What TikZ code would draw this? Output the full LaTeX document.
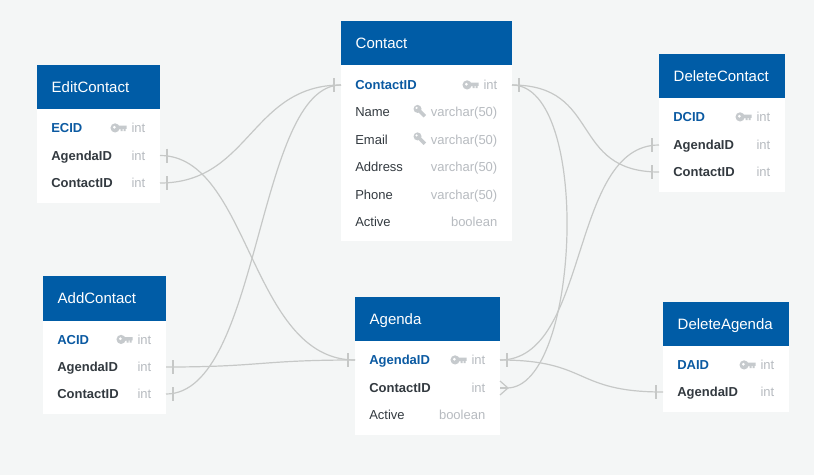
\documentclass[tikz,border=0pt]{standalone}
\usepackage{fontspec}
\setmainfont{Liberation Sans}
\definecolor{bgc}{HTML}{F4F6F6}
\definecolor{headc}{HTML}{005CA6}
\definecolor{pkc}{HTML}{0B5AA2}
\definecolor{namec}{HTML}{333A40}
\definecolor{typec}{HTML}{B7BBC0}
\definecolor{iconc}{HTML}{C6CACD}
\definecolor{linec}{HTML}{C6C8C7}
\tikzset{
  x=1pt,y=-1pt,
  tablebody/.style={fill=white,draw=none,inner sep=0,outer sep=0,anchor=north west},
  tablehead/.style={fill=headc,draw=none,inner sep=0,outer sep=0,anchor=north west},
  rowbox/.style={inner sep=0,outer sep=0,anchor=center,minimum height=27pt},
  rowname/.style={inner sep=0,outer sep=0,anchor=base west,font=\fontsize{13}{13}\selectfont,text=namec},
  rowkey/.style={rowname,font=\fontsize{13}{13}\selectfont\bfseries,text=pkc},
  rowfk/.style={rowname,font=\fontsize{13}{13}\selectfont\bfseries,text=namec},
  rowtype/.style={inner sep=0,outer sep=0,anchor=base east,font=\fontsize{13}{13}\selectfont,text=typec},
  link/.style={draw=linec,line width=1.2pt},
  tickmark/.style={draw=linec,line width=1.3pt},
  pkkey/.pic={
    \fill[iconc,even odd rule] (-11.5,-0.2) circle (4.6) (-12.2,-0.8) circle (1.7);
    \fill[iconc] (-8,-2.4) -- (0,-2.4) -- (0,0.8) -- (-1,0.8) -- (-1,3) -- (-3,3) -- (-3,0.8) -- (-4,0.8) -- (-4,3) -- (-6,3) -- (-6,0.8) -- (-8,1.4) -- cycle;
  },
  idxkey/.pic={
    \fill[iconc,even odd rule] (-8.3,-3.2) circle (4) (-9.3,-4.2) circle (1.4);
    \draw[iconc,line width=3.6pt] (-6.5,-1.4) -- (-1,4.1);
  }
}
\newcommand{\ertable}[7]{% id, x1, x2, top, headbottom, bottom, title
  \node[tablebody,minimum width={#3-#2},minimum height={#6-#4}] (#1-body) at (#2,#4) {};
  \node[tablehead,minimum width={#3-#2},minimum height={#5-#4}] (#1-head) at (#2,#4) {};
  \node[inner sep=0,anchor=base west,text=white,font=\fontsize{15}{15}\selectfont] (#1-title) at (#2+14.5,{(#4+#5)/2+5.2}) {#7};
}
\newcommand{\errow}[7]{% id, x1, x2, y, style, name, type
  \node[rowbox,minimum width={#3-#2}] (#1) at ({(#2+#3)/2},#4) {};
  \node[#5] (#1-name) at (#2+14.3,#4+4.6) {#6};
  \node[rowtype] (#1-type) at (#3-14.7,#4+4.6) {#7};
}
\begin{document}
\begin{tikzpicture}
\path[use as bounding box,fill=bgc] (0,0) rectangle (814,475);

\ertable{edit}{37}{160}{65}{109}{203}{EditContact}
\errow{editid}{37}{160}{128}{rowkey}{ECID}{int}
\errow{editag}{37}{160}{155.5}{rowfk}{AgendaID}{int}
\errow{editco}{37}{160}{183}{rowfk}{ContactID}{int}
\pic at ([xshift=-5pt,yshift=4.5pt]editid-type.base west) {pkkey};

\ertable{add}{43}{166}{276}{321}{414}{AddContact}
\errow{addid}{43}{166}{339.5}{rowkey}{ACID}{int}
\errow{addag}{43}{166}{367}{rowfk}{AgendaID}{int}
\errow{addco}{43}{166}{394}{rowfk}{ContactID}{int}
\pic at ([xshift=-5pt,yshift=4.5pt]addid-type.base west) {pkkey};

\ertable{con}{341}{512}{21}{65}{241}{Contact}
\errow{conid}{341}{512}{85}{rowkey}{ContactID}{int}
\errow{conname}{341}{512}{112}{rowname}{Name}{varchar(50)}
\errow{conmail}{341}{512}{139.5}{rowname}{Email}{varchar(50)}
\errow{conaddr}{341}{512}{167}{rowname}{Address}{varchar(50)}
\errow{conphone}{341}{512}{194.5}{rowname}{Phone}{varchar(50)}
\errow{conact}{341}{512}{222}{rowname}{Active}{boolean}
\pic at ([xshift=-5pt,yshift=4.5pt]conid-type.base west) {pkkey};
\pic at ([xshift=-5pt,yshift=4.5pt]conname-type.base west) {idxkey};
\pic at ([xshift=-5pt,yshift=4.5pt]conmail-type.base west) {idxkey};

\ertable{ag}{355}{500}{297}{341}{435}{Agenda}
\errow{agid}{355}{500}{360}{rowkey}{AgendaID}{int}
\errow{agco}{355}{500}{388}{rowfk}{ContactID}{int}
\errow{agact}{355}{500}{415}{rowname}{Active}{boolean}
\pic at ([xshift=-5pt,yshift=4.5pt]agid-type.base west) {pkkey};

\ertable{dc}{659}{785}{54}{98}{192}{DeleteContact}
\errow{dcid}{659}{785}{117}{rowkey}{DCID}{int}
\errow{dcag}{659}{785}{145}{rowfk}{AgendaID}{int}
\errow{dcco}{659}{785}{172}{rowfk}{ContactID}{int}
\pic at ([xshift=-5pt,yshift=4.5pt]dcid-type.base west) {pkkey};

\ertable{da}{663}{789}{302}{346}{412}{DeleteAgenda}
\errow{daid}{663}{789}{365}{rowkey}{DAID}{int}
\errow{daag}{663}{789}{392}{rowfk}{AgendaID}{int}
\pic at ([xshift=-5pt,yshift=4.5pt]daid-type.base west) {pkkey};

% connectors
\draw[link] (editag.east) .. controls +(90,0) and ([xshift=-105pt]agid.west) .. (agid.west);
\draw[link] (editco.east) .. controls +(90,0) and ([xshift=-90pt]conid.west) .. (conid.west);
\draw[link] (addag.east) .. controls +(95,0) and ([xshift=-95pt]agid.west) .. (agid.west);
\draw[link] (addco.east) .. controls +(95,0) and ([xshift=-85pt]conid.west) .. (conid.west);
\draw[link] (conid.east) .. controls +(90,0) and ([xshift=-90pt]dcco.west) .. (dcco.west);
\draw[link] (conid.east) .. controls +(80,0) and ([xshift=80pt]agco.east) .. ([xshift=7pt]agco.east);
\draw[link] (agid.east) .. controls +(90,0) and ([xshift=-90pt]dcag.west) .. (dcag.west);
\draw[link] (agid.east) .. controls +(90,0) and ([xshift=-90pt]daag.west) .. (daag.west);

% cardinality marks
\draw[tickmark] ([xshift=7pt]editag.east) ++(0,-7) -- ++(0,14);
\draw[tickmark] ([xshift=7pt]editco.east) ++(0,-7) -- ++(0,14);
\draw[tickmark] ([xshift=7pt]addag.east) ++(0,-7) -- ++(0,14);
\draw[tickmark] ([xshift=7pt]addco.east) ++(0,-7) -- ++(0,14);
\draw[tickmark] ([xshift=7pt]conid.east) ++(0,-7) -- ++(0,14);
\draw[tickmark] ([xshift=-7pt]conid.west) ++(0,-7) -- ++(0,14);
\draw[tickmark] ([xshift=-7pt]agid.west) ++(0,-7) -- ++(0,14);
\draw[tickmark] ([xshift=7pt]agid.east) ++(0,-7) -- ++(0,14);
\draw[tickmark] ([xshift=-7pt]dcag.west) ++(0,-7) -- ++(0,14);
\draw[tickmark] ([xshift=-7pt]dcco.west) ++(0,-7) -- ++(0,14);
\draw[tickmark] ([xshift=-7pt]daag.west) ++(0,-7) -- ++(0,14);
\draw[link] ([yshift=-7pt]agco.east) -- ([xshift=8pt]agco.east) -- ([yshift=7pt]agco.east);
\draw[link] (agco.east) -- ([xshift=8pt]agco.east);
\end{tikzpicture}
\end{document}
